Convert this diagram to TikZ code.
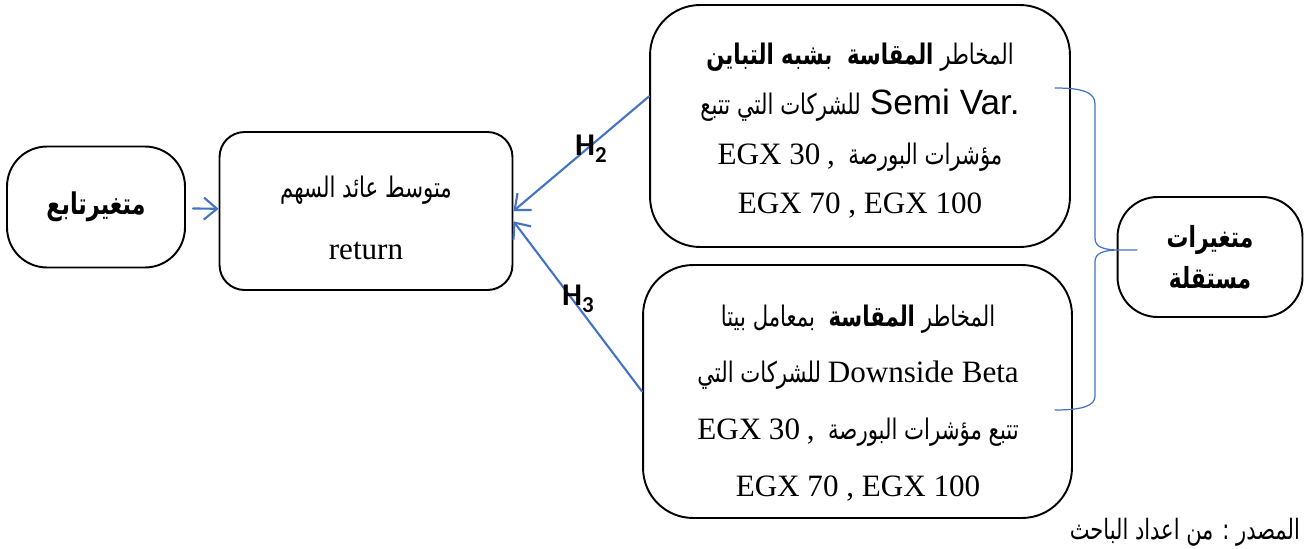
\documentclass[tikz,border=0pt]{standalone}
\usepackage{fontspec}
\setmainfont{Liberation Serif}
\newfontfamily\arabicfont[Script=Arabic,Scale=0.91,FakeStretch=0.75]{DejaVu Sans}
\newfontfamily\latinsans[Scale=1.13]{Liberation Sans}
\newfontfamily\hfont{Carlito}
\TeXXeTstate=1
\usetikzlibrary{arrows.meta}
\definecolor{linkblue}{RGB}{68,114,196}
\newcommand\lt[1]{{\rmfamily\beginL #1\endL}}
\newcommand\hyp[1]{{\hfont\bfseries H\raisebox{-.45ex}{\fontsize{13}{13}\selectfont #1}}}
\begin{document}
\begin{tikzpicture}[x=0.02cm, y=-0.02cm, line join=round, line cap=round,
    box/.style={draw, line width=1.1pt, inner sep=0pt},
    txt/.style={align=center, inner sep=0pt, font=\arabicfont\fontsize{17.7}{28.3}\selectfont},
    link/.style={draw=linkblue, line width=1.2pt, -{Straight Barb[length=2.6mm, width=4.4mm]}},
    bracel/.style={draw=linkblue, line width=.7pt}]
    \useasboundingbox (0,0) rectangle (1311,548);
    % boxes
    \node[box, rounded corners=.8cm, minimum width=3.56cm, minimum height=2.42cm, font=\arabicfont\bfseries\fontsize{18.7}{20}\selectfont] (dep) at (96,207) {\beginR متغيرتابع\endR};
    \node[box, rounded corners=.5cm, minimum width=5.86cm, minimum height=3.16cm] (ret) at (366,211) {};
    \node[txt, font=\arabicfont\fontsize{17.7}{35.7}\selectfont] (rettxt) at (366,218) {\beginR متوسط عائد السهم\endR\\ \lt{return}};
    \node[box, rounded corners=1cm, minimum width=8.4cm, minimum height=4.84cm] (semi) at (860,126) {};
    \node[txt] (semitxt) at (860,131)
        {\beginR المخاطر \textbf{المقاسة\ \ بشبه التباين}\endR\\
         \beginR{\latinsans\beginL Semi Var.\endL} للشركات التي تتبع\endR\\
         \beginR مؤشرات البورصة\ \ {\rmfamily ,}\ \lt{EGX 30}\endR\\
         {\rmfamily EGX 70 , EGX 100}};
    \node[box, rounded corners=1cm, minimum width=8.58cm, minimum height=5.06cm] (beta) at (857.5,391.5) {};
    \node[txt, font=\arabicfont\fontsize{17.7}{32.3}\selectfont] (betatxt) at (858,403)
        {\beginR المخاطر \textbf{المقاسة}\ \ بمعامل بيتا\endR\\
         \beginR\lt{Downside Beta} للشركات التي\endR\\
         \beginR تتبع مؤشرات البورصة\ \ {\rmfamily ,}\ \lt{EGX 30}\endR\\
         {\rmfamily EGX 70 , EGX 100}};
    \node[box, rounded corners=.8cm, minimum width=3.7cm, minimum height=2.4cm, align=center, font=\arabicfont\bfseries\fontsize{18.2}{23.5}\selectfont] (indep) at (1210,257) {\beginR متغيرات\endR\\ \beginR مستقلة\endR};
    % links
    \draw[link, shorten <=4pt] (dep) -- (ret);
    \draw[link] (semi.172) -- (ret.east);
    \draw[link] (beta.west) -- (ret.-4);
    \node (h2) at (591,149) {\fontsize{18}{18}\selectfont\hyp{2}};
    \node (h3) at (578,299) {\fontsize{18}{18}\selectfont\hyp{3}};
    % brace
    \coordinate (bt) at (1055,88);
    \coordinate (bb) at (1055,410);
    \coordinate (tip) at (1137,250);
    \draw[bracel] (bt) .. controls (1082,88) and (1095,92) .. (1095,104) -- (1095,238)
        .. controls (1095,247) and (1103,250) .. (1120,250) -- (tip)
        (1120,250) .. controls (1103,250) and (1095,253) .. (1095,262) -- (1095,396)
        .. controls (1095,406) and (1082,410) .. (bb);
    \node[anchor=east, font=\arabicfont\fontsize{17.5}{17.5}\selectfont] (src) at (1306,532) {\beginR المصدر : من اعداد الباحث\endR};
\end{tikzpicture}
\end{document}
